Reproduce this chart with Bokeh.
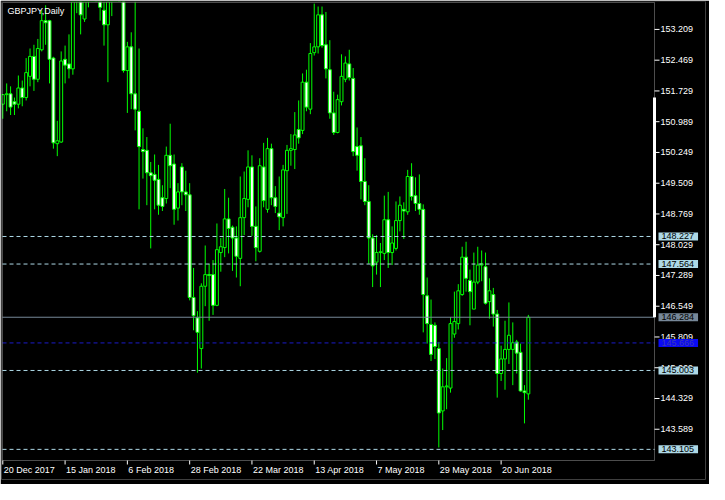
from bokeh.plotting import figure
from bokeh.models import Range1d, Label, BoxAnnotation, ColumnDataSource
from bokeh.core.properties import value
from bokeh.embed import file_html
from bokeh.resources import INLINE

symbol_title = "GBPJPY,Daily"

opens = [
151.41, 151.64, 151.66, 151.47, 151.41, 151.80, 151.57, 152.08, 152.56, 152.01,
152.72, 153.42, 153.42, 152.52, 150.46, 150.50, 152.49, 152.38, 152.26, 154.20,
154.40, 153.46, 154.10, 154.70, 155.00, 154.80, 153.67, 153.32, 154.30, 155.00,
156.10, 155.70, 152.22, 152.79, 151.66, 151.24, 150.32, 150.30, 149.76, 149.72,
149.60, 149.16, 149.14, 150.18, 149.97, 148.91, 149.90, 149.30, 149.23, 146.76,
146.27, 145.53, 147.03, 147.31, 147.31, 146.57, 147.84, 147.96, 148.65, 148.45,
148.19, 147.70, 148.68, 149.12, 149.90, 148.47, 147.87, 149.90, 148.88, 150.34,
149.16, 148.79, 148.68, 149.81, 150.30, 150.32, 150.80, 150.78, 151.94, 151.29,
152.65, 152.79, 153.56, 152.84, 152.24, 151.20, 150.73, 151.47, 152.01, 152.38,
152.03, 150.39, 150.41, 149.55, 149.07, 148.19, 147.61, 147.84, 147.82, 148.63,
147.84, 147.94, 148.61, 148.88, 148.82, 149.67, 149.21, 149.02, 148.88, 146.80,
146.11, 146.09, 145.53, 144.03, 144.61, 144.58, 145.88, 146.13, 146.83, 147.73,
147.17, 146.48, 147.13, 147.54, 147.50, 146.66, 146.83, 146.36, 144.93, 145.28,
145.51, 145.51, 145.69, 145.44, 144.51, 144.44]

highs = [
151.64, 151.91, 151.84, 151.57, 152.10, 151.98, 152.52, 152.75, 152.84, 152.98,
153.67, 153.79, 153.44, 152.55, 151.01, 152.68, 152.82, 153.09, 154.45, 154.70,
154.60, 154.35, 154.90, 155.30, 155.60, 155.00, 154.00, 154.60, 155.20, 156.40,
156.60, 155.90, 152.91, 153.14, 154.00, 152.75, 150.83, 150.62, 150.02, 150.20,
149.95, 149.46, 150.39, 150.94, 150.20, 149.51, 149.99, 149.81, 149.51, 147.47,
146.43, 147.10, 148.01, 147.57, 147.66, 148.54, 148.19, 149.37, 149.16, 148.49,
148.47, 149.67, 149.79, 150.30, 150.18, 148.95, 150.11, 150.48, 150.60, 150.46,
149.44, 149.67, 149.95, 150.43, 150.69, 151.22, 151.50, 152.15, 152.24, 152.88,
153.83, 153.76, 153.76, 153.63, 152.95, 151.71, 151.64, 152.61, 152.56, 152.72,
152.28, 150.85, 150.62, 150.11, 149.46, 148.28, 148.26, 148.07, 149.21, 149.30,
148.47, 149.07, 149.19, 149.05, 149.83, 149.99, 149.65, 149.72, 149.00, 147.24,
146.71, 146.16, 145.69, 145.05, 145.30, 146.29, 146.90, 147.08, 147.98, 148.10,
147.43, 147.84, 147.98, 147.89, 147.84, 147.22, 146.99, 146.46, 145.60, 146.20,
146.64, 146.16, 145.74, 145.65, 144.65, 146.34]

lows = [
151.06, 151.24, 151.15, 151.15, 151.31, 151.36, 151.50, 151.84, 151.73, 151.94,
152.68, 152.84, 151.91, 150.34, 150.16, 150.48, 151.91, 152.03, 152.12, 153.60,
153.09, 153.39, 153.74, 154.30, 154.50, 153.42, 152.82, 151.94, 153.53, 154.60,
155.50, 152.17, 151.20, 151.29, 150.78, 148.88, 149.62, 148.98, 147.94, 148.88,
148.75, 148.84, 149.02, 149.39, 148.51, 148.61, 148.98, 148.84, 146.69, 145.97,
144.95, 145.05, 146.55, 146.20, 146.34, 146.55, 147.38, 147.73, 147.82, 147.40,
147.24, 147.03, 148.26, 148.93, 148.24, 147.63, 147.84, 148.93, 148.80, 148.98,
148.79, 148.38, 148.47, 148.77, 149.93, 149.85, 150.46, 150.69, 151.24, 151.17,
152.58, 152.63, 152.77, 152.03, 151.06, 150.67, 150.71, 151.38, 151.94, 151.98,
150.16, 149.81, 149.12, 148.98, 147.57, 147.01, 147.31, 147.01, 147.66, 147.47,
147.54, 147.89, 148.35, 148.17, 148.75, 149.09, 148.84, 148.75, 145.92, 145.65,
145.23, 145.28, 143.15, 143.57, 144.07, 144.47, 145.79, 145.99, 146.80, 146.90,
146.09, 146.48, 147.08, 147.15, 146.59, 146.25, 146.06, 144.35, 144.75, 144.54,
145.16, 144.65, 144.93, 144.49, 143.73, 144.30]

closes = [
151.64, 151.66, 151.34, 151.41, 151.80, 151.57, 152.17, 152.56, 152.01, 152.75,
153.42, 153.37, 152.49, 150.48, 150.53, 152.45, 152.35, 152.26, 154.20, 154.40,
153.56, 154.10, 154.70, 155.00, 154.80, 153.74, 153.32, 154.30, 155.00, 156.10,
155.70, 152.22, 152.79, 151.66, 151.29, 150.39, 150.27, 149.76, 149.69, 149.58,
148.98, 148.95, 150.18, 149.93, 148.88, 149.30, 149.30, 149.23, 146.76, 146.32,
145.92, 147.03, 147.31, 147.29, 146.57, 147.91, 147.98, 148.65, 148.42, 148.19,
147.75, 148.68, 149.14, 149.90, 148.47, 147.96, 149.93, 149.09, 150.34, 149.16,
148.95, 148.70, 149.83, 150.30, 150.34, 150.67, 150.60, 151.94, 151.34, 152.63,
152.79, 153.56, 152.82, 152.26, 151.20, 150.73, 151.52, 152.08, 152.40, 152.05,
150.27, 150.18, 149.55, 149.07, 148.19, 147.52, 147.84, 147.86, 148.63, 147.84,
148.07, 148.61, 148.98, 148.84, 149.67, 149.19, 149.02, 148.88, 146.83, 146.13,
145.39, 145.58, 143.98, 144.61, 144.63, 146.13, 146.18, 146.92, 147.73, 147.22,
146.90, 147.13, 147.54, 147.57, 146.62, 146.92, 146.36, 144.93, 145.28, 145.51,
145.85, 145.67, 145.42, 144.51, 144.47, 146.284]

date_tick_index = [0, 16, 32, 48, 64, 80, 96, 112, 128]
date_tick_labels = ["20 Dec 2017", "15 Jan 2018", "6 Feb 2018", "28 Feb 2018",
                    "22 Mar 2018", "13 Apr 2018", "7 May 2018", "29 May 2018",
                    "20 Jun 2018"]

price_ticks = [153.209, 152.469, 151.729, 150.989, 150.249, 149.509, 148.769,
               148.029, 147.289, 146.549, 145.809, 145.069, 144.329, 143.589]
price_tick_labels = ["153.209", "152.469", "151.729", "150.989", "150.249",
                     "149.509", "148.769", "148.029", "147.289", "146.549",
                     "145.809", "145.069", "144.329", "143.589"]

level_values = [148.227, 147.564, 146.284, 145.666, 145.003, 143.105]
level_labels = ["148.227", "147.564", "146.284", "145.666", "145.003", "143.105"]

# white marker bar drawn on the price-scale edge (top / bottom price)
scale_bar = [151.57, 146.284]

# visible chart window (bar index / price)
chart_x0, chart_x1 = -0.075, 167.4
chart_y0, chart_y1 = 142.837, 153.857

# ---- styles ----
LIME = "#00FF00"
LIGHTBLUE = "#ADD8E6"
SLATE = "#778899"
BLUE_LINE = "#1A1AC8"
BLUE_BOX = "#0A0AF5"
FONT = "Liberation Sans"
FS = "9px"

level_style = [
    dict(color=LIGHTBLUE, dash="4 3", box=LIGHTBLUE, text="#000000"),
    dict(color=LIGHTBLUE, dash="4 3", box=LIGHTBLUE, text="#000000"),
    dict(color=SLATE, dash="solid", box=SLATE, text="#000000"),
    dict(color=BLUE_LINE, dash="4 3", box=BLUE_BOX, text="#3C3CB4"),
    dict(color=LIGHTBLUE, dash="4 3", box=LIGHTBLUE, text="#000000"),
    dict(color=LIGHTBLUE, dash="4 3", box=LIGHTBLUE, text="#000000"),
]

# ---- geometry (pixels) ----
CW, CH = 652, 458          # chart box
FW, FH = 704, 478          # plotting frame (chart + price/date label strips)
BL, BT, BR, BB = 1, 1, 4, 5

ppb = CW / (chart_x1 - chart_x0)      # px per bar
ppp = (chart_y1 - chart_y0) / CH      # price per px
x_start = chart_x0 - 1 / ppb
x_end = x_start + FW / ppb
y_end = chart_y1 + 1 * ppp
y_start = y_end - FH * ppp
tick_dx = 5 / ppb
tick_dy = 4 * ppp

p = figure(frame_width=FW, frame_height=FH, output_backend="svg",
           toolbar_location=None,
           x_range=Range1d(x_start, x_end), y_range=Range1d(y_start, y_end),
           x_axis_location=None, y_axis_location=None,
           min_border_left=BL, min_border_top=BT, min_border_right=BR,
           min_border_bottom=BB)
p.background_fill_color = "black"
p.border_fill_color = "black"
p.outline_line_color = None
p.grid.visible = False

xs = list(range(len(opens)))
tops = [max(o, c) for o, c in zip(opens, closes)]
bots = [min(o, c) for o, c in zip(opens, closes)]
fills = ["white" if c < o else "black" for o, c in zip(opens, closes)]
src = ColumnDataSource(dict(x=xs, o=opens, h=highs, l=lows, c=closes,
                            top=tops, bot=bots, fill=fills))

p.segment(x0="x", y0="h", x1="x", y1="l", source=src, line_color=LIME, line_width=1)
p.vbar(x="x", width=0.75, top="top", bottom="bot", source=src,
       fill_color="fill", line_color=LIME, line_width=1)

for lvl, st in zip(level_values, level_style):
    p.segment(x0=[chart_x0], y0=[lvl], x1=[chart_x1], y1=[lvl],
              line_color=st["color"], line_dash=st["dash"], line_width=1)

# hide candles that go above the chart window
p.add_layout(BoxAnnotation(left=x_start, right=x_end, bottom=chart_y1,
                           top=y_end + 1, fill_color="black", fill_alpha=1,
                           line_color=None, level="glyph"))

# price scale ticks + labels on the chart's right edge
p.segment(x0=[chart_x1] * len(price_ticks), y0=price_ticks,
          x1=[chart_x1 + tick_dx] * len(price_ticks), y1=price_ticks,
          line_color="white", line_width=1)
p.text(x=[chart_x1] * len(price_ticks), y=price_ticks, text=price_tick_labels,
       x_offset=6, text_align="left", text_baseline="middle",
       text_color="white", text_font=value(FONT), text_font_size=FS)

# thick white bar on the scale edge
p.segment(x0=[chart_x1], y0=[scale_bar[0]], x1=[chart_x1], y1=[scale_bar[1]],
          line_color="white", line_width=3)

# time scale ticks + labels on the chart's bottom edge
p.segment(x0=date_tick_index, y0=[chart_y0] * len(date_tick_index),
          x1=date_tick_index, y1=[chart_y0 - tick_dy] * len(date_tick_index),
          line_color="white", line_width=1)
p.text(x=date_tick_index, y=[chart_y0] * len(date_tick_index), text=date_tick_labels,
       x_offset=1, y_offset=4, text_align="left", text_baseline="top",
       text_color="white", text_font=value(FONT), text_font_size=FS)

# chart box (white frame)
p.add_layout(BoxAnnotation(left=chart_x0, right=chart_x1, bottom=chart_y0,
                           top=chart_y1, fill_alpha=0, line_color="white",
                           line_width=1, level="annotation"))

# level price boxes
for lvl, lab, st in zip(level_values, level_labels, level_style):
    p.add_layout(Label(x=chart_x1, y=lvl, text=lab, x_offset=4, y_offset=0,
                       text_align="left", text_baseline="middle",
                       text_color=st["text"], text_font=FONT, text_font_size=FS,
                       background_fill_color=st["box"],
                       padding=dict(left=3, right=4, top=1, bottom=1)))

p.add_layout(Label(x=chart_x0, y=chart_y1, text=symbol_title, x_offset=5, y_offset=-3,
                   text_align="left", text_baseline="top", text_color="white",
                   text_font=FONT, text_font_size=FS))

open("out.html", "w").write(file_html(p, INLINE))
